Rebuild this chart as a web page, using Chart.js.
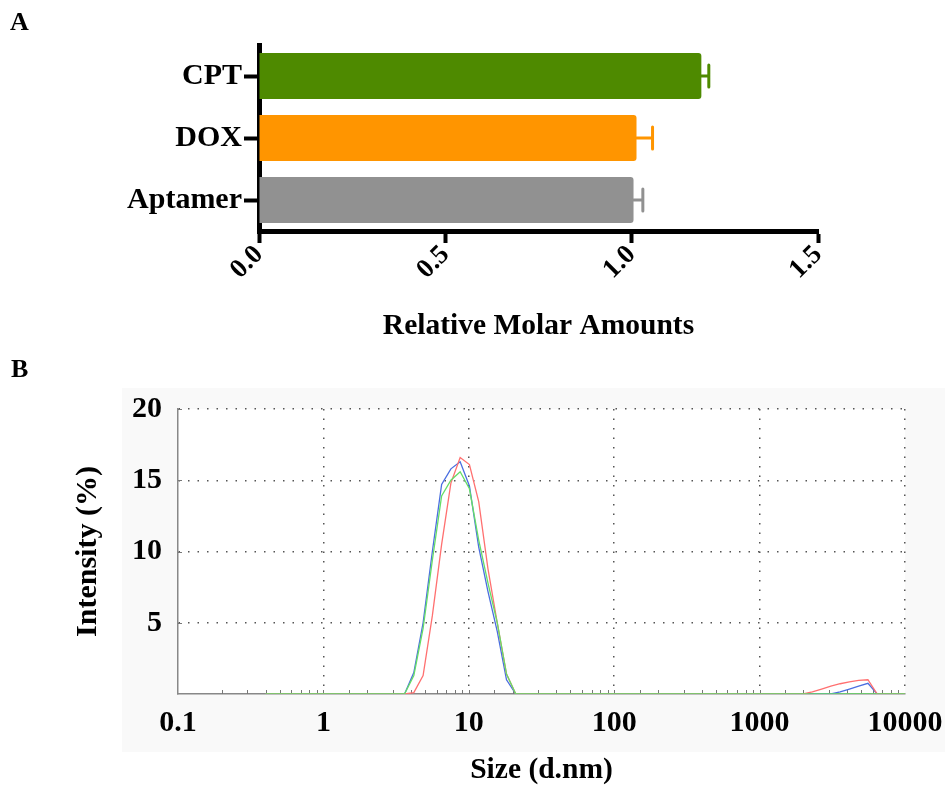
<!DOCTYPE html>
<html><head><meta charset="utf-8">
<script src="https://cdn.jsdelivr.net/npm/chart.js@4.4.1/dist/chart.umd.min.js"></script>
<style>
html,body{margin:0;padding:0;background:#fff;}
#wrap{position:relative;width:945px;height:788px;overflow:hidden;}
#ca{position:absolute;left:0;top:0;}
#cb{position:absolute;left:0;top:360px;}
.lab{position:absolute;font:bold 26px 'Liberation Serif',serif;color:#000;line-height:30px;}
</style></head><body>
<div id="wrap">
<canvas id="ca" width="945" height="360"></canvas>
<canvas id="cb" width="945" height="428"></canvas>
<div class="lab" style="left:10px;top:7px">A</div>
<div class="lab" style="left:11px;top:354px">B</div>
</div>
<script>
// ---- Panel A data ----
const categories = ['CPT', 'DOX', 'Aptamer'];
const molarMeans = [1.187, 1.013, 1.005];
const molarErrors = [0.02, 0.043, 0.025];
const barColors = ['#4e8a00', '#ff9500', '#919191'];
const xTicksA = [0.0, 0.5, 1.0, 1.5];

// ---- Panel B data ----
const sizes = [0.4, 3.122, 3.615, 4.187, 4.849, 5.615, 6.503, 7.531, 8.721, 10.1, 11.7, 13.54, 15.69, 18.17, 21.04, 24.36, 1990, 2305, 2669, 3091, 3580, 4145, 4801, 5560, 6439, 10000];
const intensityRed   = [0, 0, 0, 0.1, 1.3, 5.5, 10.5, 14.8, 16.6, 16.1, 13.5, 8.8, 5.0, 1.4, 0, 0, 0, 0.15, 0.35, 0.55, 0.72, 0.85, 0.95, 1.0, 0, 0];
const intensityGreen = [0, 0, 0, 1.3, 4.6, 9.4, 13.9, 15.0, 15.6, 14.4, 10.8, 7.8, 5.0, 1.4, 0, 0, 0, 0, 0, 0, 0, 0, 0, 0, 0, 0];
const intensityBlue  = [0, 0, 0, 1.5, 5.0, 10.0, 14.7, 15.8, 16.3, 14.6, 10.3, 7.2, 4.4, 1.0, 0, 0, 0, 0, 0, 0, 0.15, 0.35, 0.55, 0.75, 0, 0];
const decadeLabels = [0.1, 1, 10, 100, 1000, 10000];

const FONT = "'Liberation Serif', 'Times New Roman', serif";

const errorBarPlugin = {
  id: 'errbars',
  afterDatasetsDraw(chart) {
    const xs = chart.scales.x, ys = chart.scales.y, ctx = chart.ctx;
    ctx.save();
    ctx.lineWidth = 3;
    ctx.lineCap = 'round';
    molarMeans.forEach((m, i) => {
      const y = ys.getPixelForValue(i);
      const x0 = xs.getPixelForValue(m);
      const x1 = xs.getPixelForValue(m + molarErrors[i]);
      ctx.strokeStyle = barColors[i];
      ctx.beginPath();
      ctx.moveTo(x0, y); ctx.lineTo(x1, y);
      ctx.moveTo(x1, y - 11); ctx.lineTo(x1, y + 11);
      ctx.stroke();
    });
    ctx.restore();
  }
};

new Chart(document.getElementById('ca'), {
  type: 'bar',
  data: {
    labels: categories,
    datasets: [{
      data: molarMeans,
      backgroundColor: barColors,
      borderRadius: 3,
      borderSkipped: 'start',
      barPercentage: 0.9,
      categoryPercentage: 0.82
    }]
  },
  options: {
    indexAxis: 'y',
    responsive: false,
    animation: false,
    layout: { padding: { top: 45, right: 127, left: 0, bottom: 0 } },
    plugins: { legend: { display: false }, tooltip: { enabled: false } },
    scales: {
      x: {
        min: 0, max: 1.5,
        afterBuildTicks: s => { s.ticks = xTicksA.map(v => ({ value: v })); },
        ticks: {
          font: { family: FONT, weight: 'bold', size: 27 }, color: '#000',
          minRotation: 45, maxRotation: 45, padding: -4,
          callback: v => Number(v).toFixed(1)
        },
        grid: { drawOnChartArea: false, tickLength: 12, tickWidth: 4, color: '#000' },
        border: { width: 5, color: '#000' },
        title: { display: true, text: 'Relative Molar Amounts', color: '#000',
                 font: { family: FONT, weight: 'bold', size: 29.5 }, padding: { top: 0, bottom: 16 } },
        afterFit: s => { s.height = 129; }
      },
      y: {
        ticks: { font: { family: FONT, weight: 'bold', size: 30 }, color: '#000', padding: 2 },
        grid: { drawOnChartArea: false, offset: false, tickLength: 15, tickWidth: 4, color: '#000' },
        border: { width: 5, color: '#000' },
        afterFit: s => { s.width = 259; }
      }
    }
  },
  plugins: [errorBarPlugin]
});

function isDecade(v) {
  const l = Math.log10(v);
  return Math.abs(l - Math.round(l)) < 1e-6;
}

const bgPlugin = {
  id: 'bgB',
  beforeDraw(chart) {
    const ctx = chart.ctx, a = chart.chartArea;
    ctx.save();
    ctx.fillStyle = '#f9f9f9';
    ctx.fillRect(122, 28, 823, 364);
    ctx.fillStyle = '#ffffff';
    ctx.fillRect(a.left, a.top, a.right - a.left, a.bottom - a.top);
    ctx.restore();
  }
};

const minorTickPlugin = {
  id: 'minorTicks',
  beforeDatasetsDraw(chart) {
    const ctx = chart.ctx, xs = chart.scales.x, ys = chart.scales.y, a = chart.chartArea;
    ctx.save();
    ctx.strokeStyle = '#777';
    ctx.lineWidth = 1;
    ctx.beginPath();
    xs.ticks.forEach(t => {
      if (t.value <= 0.1 || t.value >= 10000) return;
      const x = Math.round(xs.getPixelForValue(t.value)) + 0.5;
      ctx.moveTo(x, a.bottom); ctx.lineTo(x, a.bottom - 4);
    });
    ys.ticks.forEach(t => {
      if (t.value <= 0) return;
      const y = Math.round(ys.getPixelForValue(t.value)) + 0.5;
      ctx.moveTo(a.left, y); ctx.lineTo(a.left + 4, y);
    });
    ctx.stroke();
    ctx.restore();
  }
};

const mk = (arr) => sizes.map((s, i) => ({ x: s, y: arr[i] }));

new Chart(document.getElementById('cb'), {
  type: 'line',
  data: {
    datasets: [
      { label: 'Record 1', data: mk(intensityGreen), borderColor: '#66dd66' },
      { label: 'Record 2', data: mk(intensityRed), borderColor: '#ff7070' },
      { label: 'Record 3', data: mk(intensityBlue), borderColor: '#4a6ee0' }
    ]
  },
  options: {
    responsive: false,
    animation: false,
    layout: { padding: { top: 49, right: 40, left: 0, bottom: 0 } },
    elements: { point: { radius: 0 }, line: { borderWidth: 1.3, tension: 0 } },
    plugins: { legend: { display: false }, tooltip: { enabled: false } },
    scales: {
      x: {
        type: 'logarithmic', min: 0.1, max: 10000,
        ticks: {
          autoSkip: false, maxRotation: 0, minRotation: 0, padding: 11,
          font: { family: FONT, weight: 'bold', size: 30 }, color: '#000',
          callback: v => {
            const d = decadeLabels.find(d => Math.abs(d - v) / d < 1e-6);
            return d !== undefined ? String(d) : '';
          }
        },
        grid: {
          drawTicks: false, lineWidth: 1.5,
          color: c => (c.tick && isDecade(c.tick.value) && c.tick.value > 0.11) ? '#555' : 'rgba(0,0,0,0)'
        },
        border: { color: '#888', width: 1.5, dash: [1.5, 8] },
        title: { display: true, text: 'Size (d.nm)', color: '#000',
                 font: { family: FONT, weight: 'bold', size: 29.5 }, padding: { top: 0, bottom: 0 } },
        afterFit: s => { s.height = 94; s.paddingRight = 0; s.paddingLeft = 0; }
      },
      y: {
        min: 0, max: 20,
        ticks: {
          stepSize: 2.5, padding: 16,
          font: { family: FONT, weight: 'bold', size: 30 }, color: '#000',
          callback: v => (v > 0 && v % 5 === 0) ? String(v) : ''
        },
        grid: {
          drawTicks: false, lineWidth: 1.5,
          color: c => (c.tick && c.tick.value > 0 && c.tick.value % 5 === 0) ? '#555' : 'rgba(0,0,0,0)'
        },
        border: { color: '#888', width: 1.5, dash: [1.5, 8] },
        title: { display: true, text: 'Intensity (%)', color: '#000',
                 font: { family: FONT, weight: 'bold', size: 30 }, padding: { top: 70, bottom: 0 } },
        afterFit: s => { s.width = 178; s.paddingTop = 0; s.paddingBottom = 0; }
      }
    }
  },
  plugins: [bgPlugin, minorTickPlugin]
});
</script>
</body></html>
